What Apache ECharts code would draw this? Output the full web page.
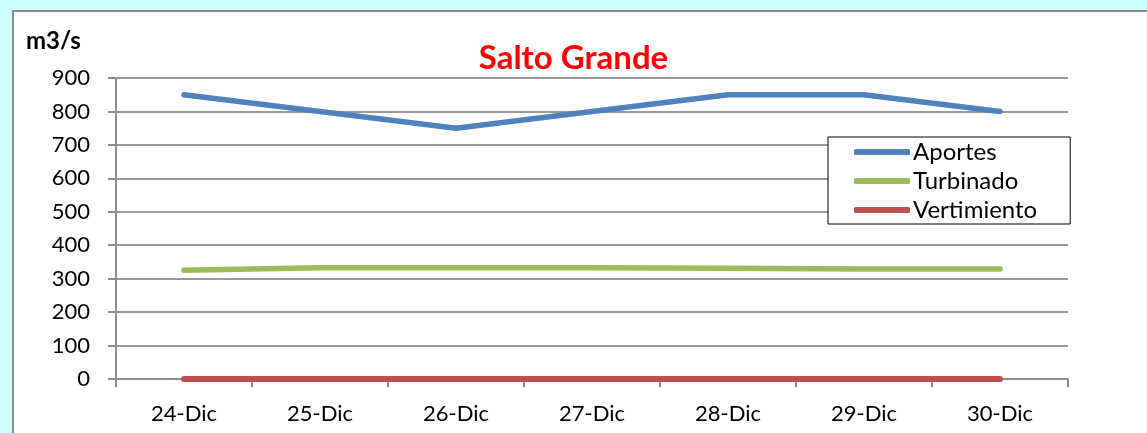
<!DOCTYPE html>
<html>
<head>
<meta charset="utf-8">
<script src="https://cdn.jsdelivr.net/npm/echarts@6/dist/echarts.min.js"></script>
<style>
  html, body { margin: 0; padding: 0; background: #ccffff; }
  #chart { width: 1147px; height: 433px; }
</style>
</head>
<body>
<div id="chart"></div>
<script>
// datos
var dias = ['24-Dic', '25-Dic', '26-Dic', '27-Dic', '28-Dic', '29-Dic', '30-Dic']
var aportes = [850, 800, 750, 800, 850, 850, 800]
var turbinado = [325, 333, 333, 333, 331, 329, 329]
var vertimiento = [0, 0, 0, 0, 0, 0, 0]

var fuente = 'Lato, "Open Sans", sans-serif'
var chart = echarts.init(document.getElementById('chart'))

var option = {
  backgroundColor: '#ccffff',
  animation: false,
  textStyle: { fontFamily: fuente },
  graphic: [
    {
      type: 'rect',
      shape: { x: 13, y: 11, width: 1200, height: 500 },
      style: { fill: '#ffffff', stroke: '#8c8c8c', lineWidth: 2 },
      z: -10
    },
    {
      type: 'text',
      left: 26, top: 29,
      style: { text: 'm3/s', font: 'bold 24px ' + fuente, fill: '#000' }
    }
  ],
  title: {
    text: 'Salto Grande',
    left: 'center',
    top: 37,
    textStyle: { color: '#ff0000', fontSize: 33, fontWeight: 'bold', fontFamily: fuente }
  },
  legend: {
    orient: 'vertical',
    left: 828,
    top: 137,
    backgroundColor: '#fff',
    borderColor: '#000',
    borderWidth: 1,
    padding: [3, 33, 2, 26],
    itemGap: 5,
    itemWidth: 56,
    itemHeight: 6,
    icon: 'roundRect',
    textStyle: { fontSize: 24, lineHeight: 24, color: '#000', padding: [0, 0, 0, -2], fontFamily: fuente },
    data: ['Aportes', 'Turbinado', 'Vertimiento']
  },
  grid: { left: 116, right: 79, top: 78, bottom: 54 },
  xAxis: {
    type: 'category',
    data: dias,
    boundaryGap: true,
    axisLine: { lineStyle: { color: '#8c8c8c', width: 2 } },
    axisTick: { show: true, length: 8, lineStyle: { color: '#8c8c8c', width: 2 } },
    axisLabel: { fontSize: 22, color: '#000', margin: 24 }
  },
  yAxis: {
    type: 'value',
    min: 0,
    max: 900,
    interval: 100,
    axisLine: { show: true, lineStyle: { color: '#8c8c8c', width: 2 } },
    axisTick: { show: true, length: 8, lineStyle: { color: '#8c8c8c', width: 2 } },
    axisLabel: { fontSize: 22, color: '#000', margin: 26 },
    splitLine: { lineStyle: { color: '#999999', width: 2 } }
  },
  series: [
    {
      name: 'Aportes', type: 'line', data: aportes, symbol: 'none',
      lineStyle: { color: '#4f81bd', width: 5.5, cap: 'round' },
      itemStyle: { color: '#4f81bd' }
    },
    {
      name: 'Turbinado', type: 'line', data: turbinado, symbol: 'none',
      lineStyle: { color: '#9bbb59', width: 5.5, cap: 'round' },
      itemStyle: { color: '#9bbb59' }
    },
    {
      name: 'Vertimiento', type: 'line', data: vertimiento, symbol: 'none',
      lineStyle: { color: '#c0504d', width: 6, cap: 'round' },
      itemStyle: { color: '#c0504d' }
    }
  ]
}
chart.setOption(option)
</script>
</body>
</html>
